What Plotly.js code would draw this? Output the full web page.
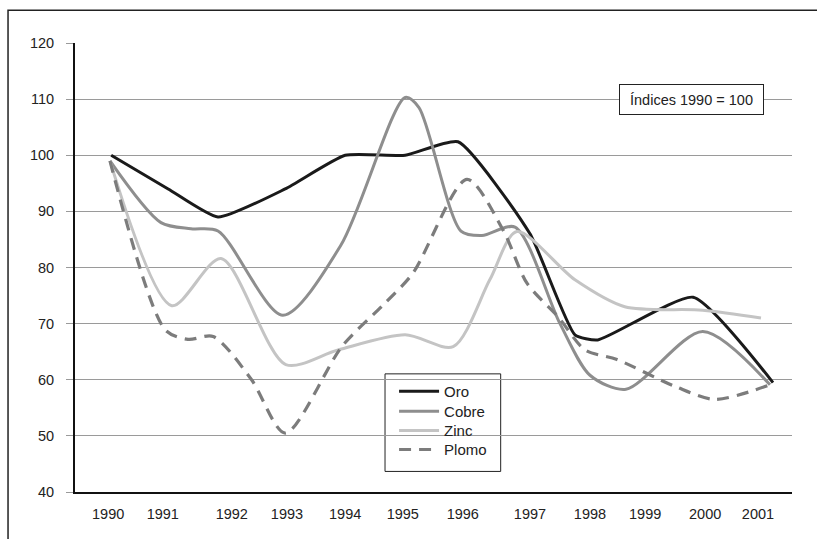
<!DOCTYPE html>
<html>
<head>
<meta charset="utf-8">
<script src="https://cdn.plot.ly/plotly-3.0.1.min.js"></script>
<style>html,body{margin:0;padding:0;background:#fff;}#chart{width:817px;height:539px;}</style>
</head>
<body>
<div id="chart"></div>
<script>
// Tick labels and where they sit on the (decimal-year) x scale
const tickLabels = ['1990','1991','1992','1993','1994','1995','1996','1997','1998','1999','2000','2001'];
const tickPos = [1989.97, 1990.88, 1992.03, 1992.95, 1993.92, 1994.88, 1995.88, 1997.0, 1998.0, 1998.92, 1999.92, 2000.8];

// Oro
const oroX = [1990.02, 1990.97, 1991.8, 1992.92, 1993.92, 1994.92, 1995.8, 1997.0, 1997.75, 1998.13, 1999.72, 2001.05];
const oroY = [100, 94, 89, 94, 100, 100, 102.4, 86, 68, 67.1, 74.7, 59.5];

// Cobre
const cobreX = [1990.0, 1990.85, 1991.35, 1991.8, 1992.88, 1993.85, 1994.92, 1995.15, 1995.85, 1996.2, 1996.75, 1997.5, 1998.0, 1998.6, 1999.88, 2001.0];
const cobreY = [99, 88, 86.9, 86.5, 71.5, 84, 110.3, 108.5, 86.5, 85.7, 87.2, 70, 60.8, 58.3, 68.6, 59.1];

// Zinc
const zincX = [1990.0, 1991.03, 1991.85, 1992.93, 1993.8, 1994.92, 1995.72, 1996.33, 1996.78, 1997.75, 1998.58, 1999.88, 2000.85];
const zincY = [99, 73.2, 81.6, 62.7, 65.3, 68, 65.9, 77.8, 86.4, 77.8, 73, 72.4, 71];

// Plomo
const plomoX = [1990.0, 1990.92, 1991.3, 1991.72, 1992.36, 1992.92, 1993.87, 1994.58, 1995.05, 1995.95, 1996.55, 1996.95, 1997.47, 1997.92, 1998.45, 1999.42, 2000.08, 2001.0];
const plomoY = [99, 68.9, 67.2, 67.7, 60, 50.5, 66, 73.6, 79, 95.7, 86.7, 77.2, 71.2, 65.3, 63.6, 58.8, 56.5, 59.1];

const fontFam = 'Liberation Sans, Arial, sans-serif';

const traces = [
  {x: oroX, y: oroY, name: 'Oro', legend: 'legend', mode: 'lines', line: {color: '#1a1a1a', width: 3, shape: 'spline', smoothing: 0.5}},
  {x: cobreX, y: cobreY, name: 'Cobre', legend: 'legend2', mode: 'lines', line: {color: '#8e8e8e', width: 3, shape: 'spline', smoothing: 0.8}},
  {x: zincX, y: zincY, name: 'Zinc', legend: 'legend3', mode: 'lines', line: {color: '#c4c4c4', width: 3, shape: 'spline', smoothing: 0.8}},
  {x: plomoX, y: plomoY, name: 'Plomo', legend: 'legend4', mode: 'lines', line: {color: '#7c7c7c', width: 3.2, dash: '12px,8px', shape: 'spline', smoothing: 0.8}}
];

function leg(yc) {
  return {
    x: 0.445, y: yc, xanchor: 'left', yanchor: 'middle',
    bgcolor: 'rgba(0,0,0,0)', borderwidth: 0,
    font: {family: fontFam, size: 15, color: '#222'},
    itemwidth: 40
  };
}

const layout = {
  width: 817, height: 539,
  margin: {l: 75, r: 25, t: 42.7, b: 46.7, pad: 0},
  paper_bgcolor: '#ffffff', plot_bgcolor: '#ffffff',
  font: {family: fontFam, size: 15, color: '#222'},
  showlegend: true,
  xaxis: {
    range: [1989.417, 2001.367], tickmode: 'array', tickvals: tickPos, ticktext: tickLabels,
    showgrid: false, zeroline: false, showline: true, linecolor: '#111', linewidth: 2,
    ticks: '', ticklabelstandoff: 8, tickfont: {family: fontFam, size: 14.5, color: '#222'}
  },
  yaxis: {
    range: [40, 120], tickmode: 'array', tickvals: [40,50,60,70,80,90,100,110,120],
    showgrid: true, gridcolor: '#9a9a9a', gridwidth: 1, zeroline: false,
    showline: true, linecolor: '#111', linewidth: 2,
    ticks: 'outside', ticklen: 7, tickcolor: '#9a9a9a', tickwidth: 1,
    ticklabelstandoff: 9, tickfont: {family: fontFam, size: 14.5, color: '#222'}
  },
  legend: leg(0.2238),
  legend2: leg(0.1793),
  legend3: leg(0.1363),
  legend4: leg(0.0941),
  shapes: [
    {type: 'rect', xref: 'paper', yref: 'paper', x0: 0.4324, x1: 0.5937, y0: 0.0458, y1: 0.2631,
     line: {color: '#222', width: 1}, fillcolor: '#ffffff', layer: 'below'},
    {type: 'rect', xref: 'paper', yref: 'paper', x0: -0.0934, x1: 1.3, y0: -0.4, y1: 1.0727,
     line: {color: '#222', width: 1.5}, fillcolor: 'rgba(0,0,0,0)'}
  ],
  annotations: [
    {xref: 'paper', yref: 'y', x: 0.86, y: 110, text: 'Índices 1990 = 100', showarrow: false,
     font: {family: fontFam, size: 14.5, color: '#222'}, bgcolor: '#ffffff', bordercolor: '#222',
     borderwidth: 1, borderpad: 6, width: 131, height: 17, xanchor: 'center', yanchor: 'middle'}
  ]
};

Plotly.newPlot('chart', traces, layout, {staticPlot: true, displayModeBar: false});
</script>
</body>
</html>
